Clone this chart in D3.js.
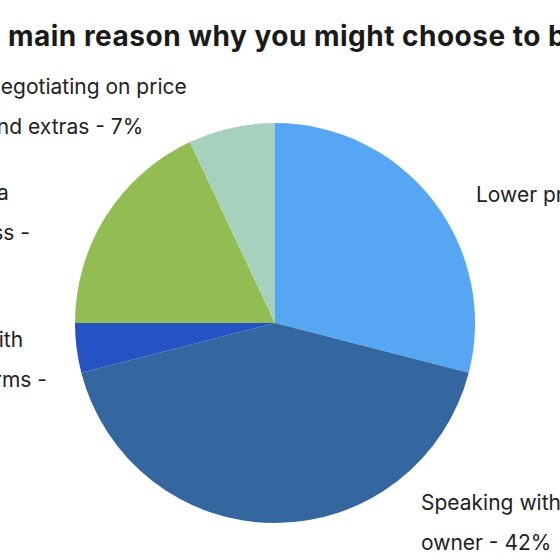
<!DOCTYPE html>
<html lang="en">
<head>
    <meta charset="UTF-8">
    <title>Main reason pie</title>
    <script src="https://cdnjs.cloudflare.com/ajax/libs/d3/7.8.5/d3.min.js"></script>
    <style type="text/css">
        body { margin: 0; background: #fff; }
        * { font-family: Inter, "Noto Sans", sans-serif; }
    </style>
</head>
<body>
    <div id="onlydiv"></div>
    <script type="text/javascript">

        // Data
        var reasons = ["Lower price", "Speaking with the owner", "Flexibility with payment terms", "Investing in a local business", "Negotiating on price and extras"];
        var shares = [29, 42, 4, 18, 7];
        var colours = ["#56a6f3", "#3467a0", "#2553c4", "#91bd53", "#a6d2bd"];
        var labelLines = [
            ["Lower price - 29%"],
            ["Speaking with the", "owner - 42%"],
            ["Flexibility with", "payment terms -", "4%"],
            ["Spending in a", "local business -", "18%"],
            ["Negotiating on price", "and extras - 7%"]
        ];
        // [line used to place the label, where that line starts or ends, baseline]
        var labelAnchor = [["start", 0, 476, 202], ["start", 0, 421, 510], ["end", 1, 47, 347], ["end", 1, 30, 200], ["end", 0, 187, 94]];
        var title = "What is the main reason why you might choose to buy from an independent business?";
        var titleLead = "What is the ";
        var titleFit = "main reason why you might choose to ";

        var w = 560;
        var h = 560;
        var cx = 275, cy = 323, r = 200;

        var svg = d3.select("#onlydiv")
            .append("svg")
            .attr("width", w)
            .attr("height", h);

        // Title, placed so "main" starts near the left edge and "b" at the right
        var titleText = svg.append("text")
            .attr("y", 46)
            .attr("font-size", "28px")
            .attr("font-weight", "bold")
            .attr("fill", "#1a1a1a")
            .text(title);
        var fitW = titleText.node().getSubStringLength(titleLead.length, titleFit.length);
        var ls = (540 - fitW) / titleFit.length;
        titleText.attr("letter-spacing", ls);
        var lead = titleText.node().getSubStringLength(0, titleLead.length);
        titleText.attr("x", 8 - lead);

        // Pie
        var pie = d3.pie().sort(null).value(function(d) { return d; });
        var arc = d3.arc().innerRadius(0).outerRadius(r);

        svg.append("g")
            .attr("transform", "translate(" + cx + "," + cy + ")")
            .selectAll("path")
            .data(pie(shares))
            .enter()
            .append("path")
            .attr("d", arc)
            .attr("fill", function(d, i) { return colours[i]; });

        // Labels (left aligned lines)
        labelLines.forEach(function(lines, i) {
            var a = labelAnchor[i];
            var t = svg.append("text")
                .attr("y", a[3])
                .attr("font-size", "21px")
                .attr("fill", "#222");
            var spans = lines.map(function(line, j) {
                return t.append("tspan")
                    .attr("dy", j === 0 ? 0 : 40)
                    .text(line);
            });
            var x = a[2];
            if (a[0] === "end") {
                x = a[2] - spans[a[1]].node().getComputedTextLength();
            }
            spans.forEach(function(s) { s.attr("x", x); });
        });

    </script>
</body>
</html>
